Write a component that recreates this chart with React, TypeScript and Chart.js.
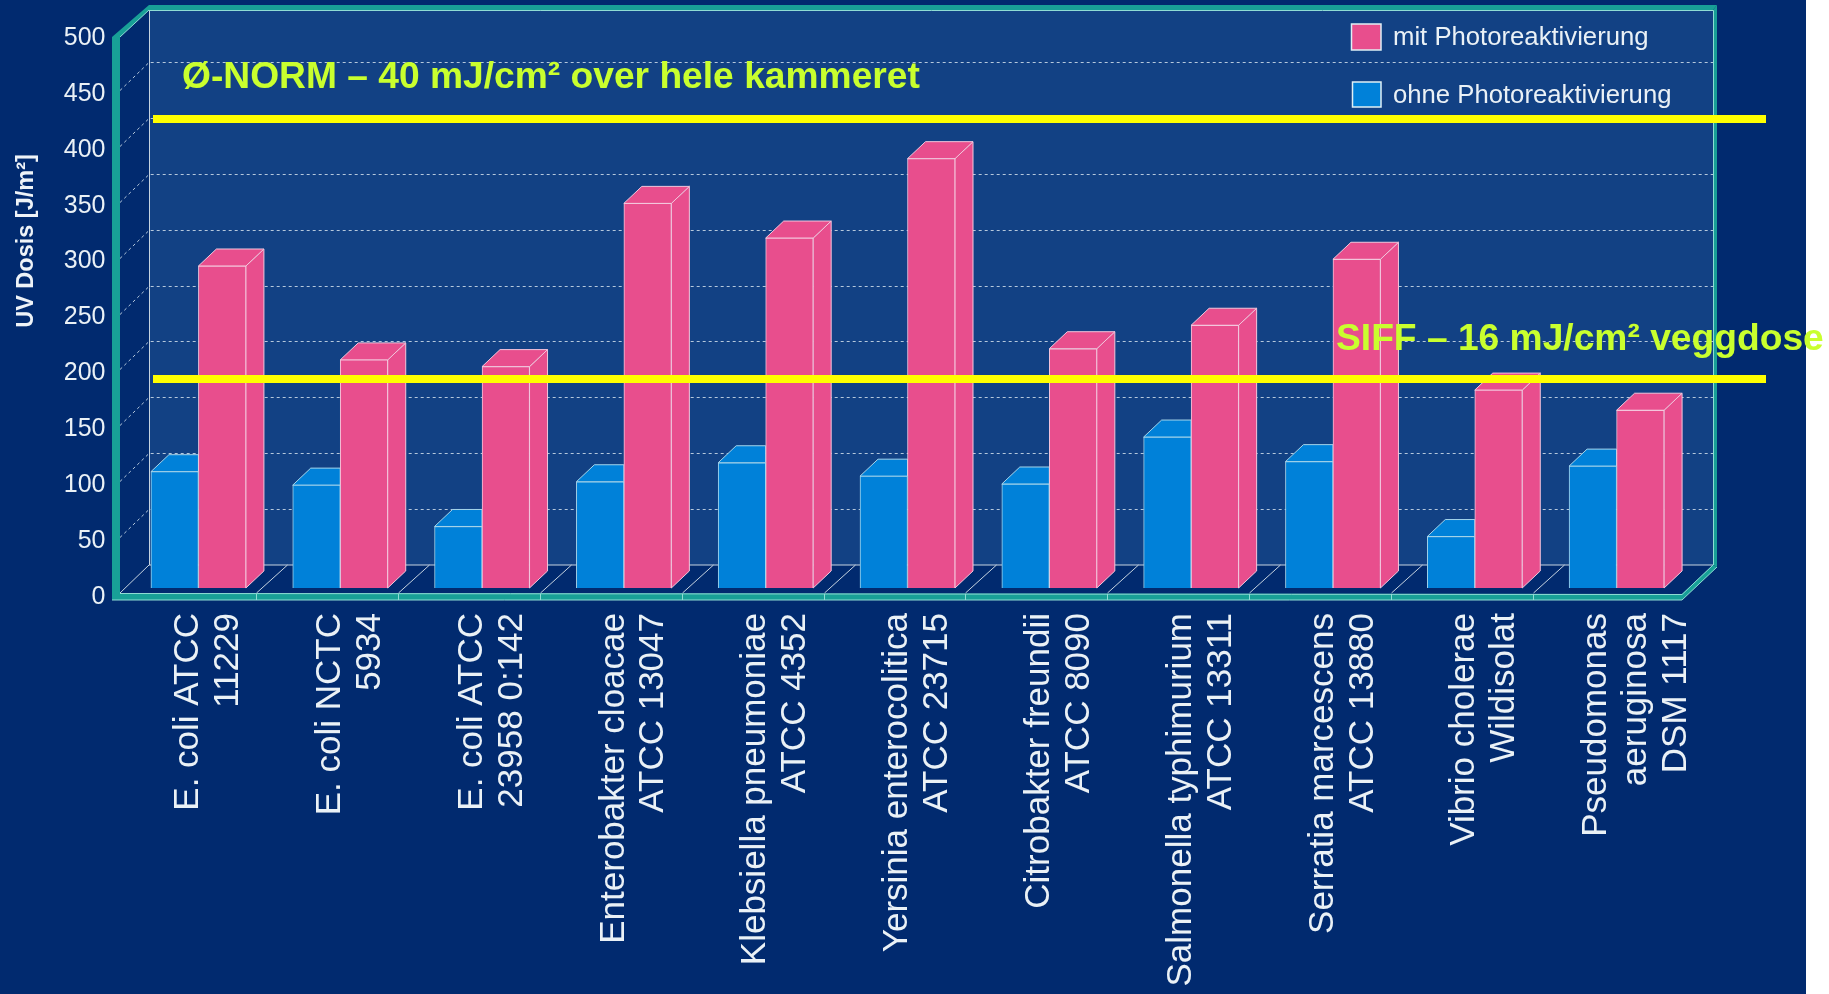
import React, { useEffect, useRef } from "react";
import { Chart, registerables } from "chart.js";

Chart.register(...registerables);

const categories: string[][] = [
  ["E. coli ATCC", "11229"],
  ["E. coli NCTC", "5934"],
  ["E. coli ATCC", "23958 0:142"],
  ["Enterobakter cloacae", "ATCC 13047"],
  ["Klebsiella pneumoniae", "ATCC 4352"],
  ["Yersinia enterocolitica", "ATCC 23715"],
  ["Citrobakter freundii", "ATCC 8090"],
  ["Salmonella typhimurium", "ATCC 13311"],
  ["Serratia marcescens", "ATCC 13880"],
  ["Vibrio cholerae", "Wildisolat"],
  ["Pseudomonas", "aeruginosa", "DSM 1117"],
];
const ohnePhoto = [104, 92, 55, 95, 112, 100, 93, 135, 113, 46, 109];
const mitPhoto = [288, 204, 198, 344, 313, 384, 214, 235, 294, 177, 159];
const yTicks = [0, 50, 100, 150, 200, 250, 300, 350, 400, 450, 500];
const normLevel = 424;
const siffLevel = 191;
const normText = "Ø-NORM – 40 mJ/cm² over hele kammeret";
const siffText = "SIFF – 16 mJ/cm² veggdose";
const yTitle = "UV Dosis [J/m²]";

const FONT = '"Liberation Sans", Arial, sans-serif';
const BG = "#012a6f";
const WALL = "#124184";
const TEAL = "#18a097";
const EDGE = "#8fdcd4";
const PINK = "#e84e8d";
const BLUE = "#0081d9";

const poly = (ctx: CanvasRenderingContext2D, pts: number[][], fill?: string, stroke?: string) => {
  ctx.beginPath();
  pts.forEach((p, i) => (i ? ctx.lineTo(p[0], p[1]) : ctx.moveTo(p[0], p[1])));
  ctx.closePath();
  if (fill) {
    ctx.fillStyle = fill;
    ctx.fill();
  }
  if (stroke) {
    ctx.strokeStyle = stroke;
    ctx.lineWidth = 1;
    ctx.stroke();
  }
};

const stagePlugin = {
  id: "stage",
  beforeDraw(chart: any) {
    const ctx: CanvasRenderingContext2D = chart.ctx;
    const y = chart.scales.y;
    const x = chart.scales.x;
    // three-line labels sit further left than two-line ones
    x.getLabelItems(chart.chartArea).forEach((it: any) => {
      if (Array.isArray(it.label) && it.label.length === 3 && !it.moved) {
        it.options.translation[0] -= 10;
        it.moved = true;
      }
    });
    // tick numbers sit slightly below their tick positions
    y.getLabelItems(chart.chartArea).forEach((it: any) => {
      if (!it.moved) {
        it.options.translation[1] += 4;
        it.moved = true;
      }
    });
    ctx.save();
    ctx.fillStyle = "#ffffff";
    ctx.fillRect(0, 0, 1829, 994);
    ctx.fillStyle = BG;
    ctx.fillRect(0, 0, 1806, 994);
    // back wall
    ctx.fillStyle = WALL;
    ctx.fillRect(149, 10, 1564, 555);
    // back wall and side wall grid
    ctx.setLineDash([3, 3]);
    ctx.strokeStyle = "#b5c8dc";
    ctx.lineWidth = 1;
    yTicks.forEach((v) => {
      if (v === 0 || v === 500) return;
      const py = Math.round(y.getPixelForValue(v)) + 0.5;
      ctx.beginPath();
      ctx.moveTo(120, py);
      ctx.lineTo(149, py - 28);
      ctx.lineTo(1713, py - 28);
      ctx.stroke();
    });
    ctx.setLineDash([]);
    // floor
    poly(ctx, [[120, 593], [149, 565], [1713, 565], [1682, 594]], BG);
    ctx.strokeStyle = "#c6d3e0";
    ctx.beginPath();
    ctx.moveTo(149.5, 565);
    ctx.lineTo(149.5, 10);
    ctx.moveTo(149, 565);
    ctx.lineTo(1713, 565);
    ctx.moveTo(120, 593);
    ctx.lineTo(149, 565);
    categories.forEach((_, i) => {
      if (i === 0) return;
      const px = Math.round(x.getPixelForValue(i) - 84) + 0.5;
      ctx.moveTo(px, 593);
      ctx.lineTo(px + 31, 565);
    });
    ctx.stroke();
    // teal frame
    poly(ctx, [[112, 37], [149, 5], [1717, 5], [1713, 10], [149, 10], [120, 37]], TEAL);
    poly(ctx, [[1713, 10], [1717, 5], [1717, 567], [1713, 565]], TEAL);
    poly(ctx, [[112, 37], [120, 37], [120, 593], [1682, 594], [1713, 565], [1717, 567], [1682, 600], [112, 600]], TEAL);
    ctx.strokeStyle = EDGE;
    ctx.lineWidth = 1;
    ctx.beginPath();
    ctx.moveTo(149, 10.5);
    ctx.lineTo(1713.5, 10.5);
    ctx.lineTo(1713.5, 565);
    ctx.moveTo(1717, 567);
    ctx.lineTo(1682, 600);
    ctx.lineTo(112, 600);
    ctx.moveTo(120, 593.5);
    ctx.lineTo(1682, 594.5);
    ctx.lineTo(1713, 565);
    ctx.moveTo(120, 37);
    ctx.lineTo(149, 10);
    categories.forEach((_, i) => {
      if (i === 0) return;
      const px = Math.round(x.getPixelForValue(i) - 84) + 0.5;
      ctx.moveTo(px, 594);
      ctx.lineTo(px, 600);
    });
    ctx.stroke();
    ctx.restore();
  },
  beforeDatasetsDraw(chart: any) {
    // side and top faces first, so the front faces drawn by the library cover them
    const ctx: CanvasRenderingContext2D = chart.ctx;
    const dx = 18;
    const dy = 17;
    ctx.save();
    chart.data.datasets.forEach((ds: any, di: number) => {
      chart.getDatasetMeta(di).data.forEach((bar: any) => {
        const left = bar.x - bar.width / 2;
        const right = bar.x + bar.width / 2;
        const top = bar.y;
        const base = bar.base;
        const fill = ds.backgroundColor;
        const edge = ds.borderColor;
        if (di === 0) {
          // the left bar's depth is hidden behind its taller neighbour
          poly(ctx, [[left, top], [left + dx, top - dy], [right, top - dy], [right, top]], fill, edge);
        } else {
          poly(ctx, [[right, top], [right + dx, top - dy], [right + dx, base - dy], [right, base]], fill, edge);
          poly(ctx, [[left, top], [left + dx, top - dy], [right + dx, top - dy], [right, top]], fill, edge);
        }
      });
    });
    ctx.restore();
  },
  afterDatasetsDraw(chart: any) {
    const ctx: CanvasRenderingContext2D = chart.ctx;
    const y = chart.scales.y;
    ctx.save();
    ctx.fillStyle = "#ffff00";
    [normLevel, siffLevel].forEach((v) => {
      ctx.fillRect(153, Math.round(y.getPixelForValue(v)) - 4, 1613, 8);
    });
    ctx.fillStyle = "#c9ff2e";
    ctx.textAlign = "left";
    ctx.textBaseline = "alphabetic";
    ctx.font = `bold 37.2px ${FONT}`;
    ctx.fillText(normText, 182, 88);
    ctx.fillText(siffText, 1336, 350);
    // legend
    const items = [
      { ds: chart.data.datasets[1], sy: 24, sh: 26, ty: 37.5, sx: 1351.5, sw: 29.5 },
      { ds: chart.data.datasets[0], sy: 82, sh: 25, ty: 96, sx: 1352.5, sw: 28.5 },
    ];
    ctx.textBaseline = "middle";
    ctx.font = `25.7px ${FONT}`;
    items.forEach((it) => {
      ctx.fillStyle = it.ds.backgroundColor;
      ctx.fillRect(it.sx, it.sy, it.sw, it.sh);
      ctx.strokeStyle = "#dff0f5";
      ctx.lineWidth = 1.5;
      ctx.strokeRect(it.sx, it.sy, it.sw, it.sh);
      ctx.fillStyle = "#eaf1f6";
      ctx.fillText(it.ds.label, 1393, it.ty);
    });
    // axis title
    ctx.translate(33, 241);
    ctx.rotate(-Math.PI / 2);
    ctx.textAlign = "center";
    ctx.textBaseline = "alphabetic";
    ctx.font = `bold 23.5px ${FONT}`;
    ctx.fillStyle = "#eef3f8";
    ctx.fillText(yTitle, 0, 0);
    ctx.restore();
  },
};

export default function App() {
  const ref = useRef<HTMLCanvasElement | null>(null);
  useEffect(() => {
    document.body.style.margin = "0";
    const chart = new Chart(ref.current as HTMLCanvasElement, {
      type: "bar",
      data: {
        labels: categories as any,
        datasets: [
          {
            label: "ohne Photoreaktivierung",
            data: ohnePhoto,
            backgroundColor: BLUE,
            borderColor: "#a5d4ea",
            borderWidth: 1,
            yAxisID: "depth",
          },
          {
            label: "mit Photoreaktivierung",
            data: mitPhoto,
            backgroundColor: PINK,
            borderColor: "#f3c6dc",
            borderWidth: 1,
            yAxisID: "depth",
          },
        ],
      },
      options: {
        animation: false,
        responsive: false,
        layout: { padding: { top: 34, right: 141.5, left: 0, bottom: 0 } },
        plugins: { legend: { display: false }, title: { display: false }, tooltip: { enabled: false } },
        datasets: { bar: { barThickness: 47.5 } },
        scales: {
          x: {
            type: "category",
            offset: true,
            grid: { display: false, drawTicks: false },
            border: { display: false },
            afterFit: (s: any) => {
              s.height = 401;
              s.paddingLeft = 0;
              s.paddingRight = 0;
            },
            ticks: {
              autoSkip: false,
              maxRotation: 90,
              minRotation: 90,
              padding: 20,
              labelOffset: -10,
              color: "#eaf1f6",
              font: { family: FONT, size: 35, lineHeight: 1.14 },
            },
          },
          y: {
            type: "linear",
            min: 0,
            max: 500,
            grid: { display: false, drawTicks: false },
            border: { display: false },
            afterFit: (s: any) => {
              s.width = 127.5;
              s.paddingTop = 0;
              s.paddingBottom = 0;
            },
            afterBuildTicks: (s: any) => {
              s.ticks = yTicks.map((value) => ({ value }));
            },
            ticks: {
              padding: 22,
              color: "#eaf1f6",
              font: { family: FONT, size: 25 },
            },
          },
          depth: {
            type: "linear",
            display: false,
            min: -4.5,
            max: 495.5,
          },
        },
      },
      plugins: [stagePlugin],
    } as any);
    return () => chart.destroy();
  }, []);
  return <canvas ref={ref} width={1829} height={994} style={{ display: "block" }} />;
}
